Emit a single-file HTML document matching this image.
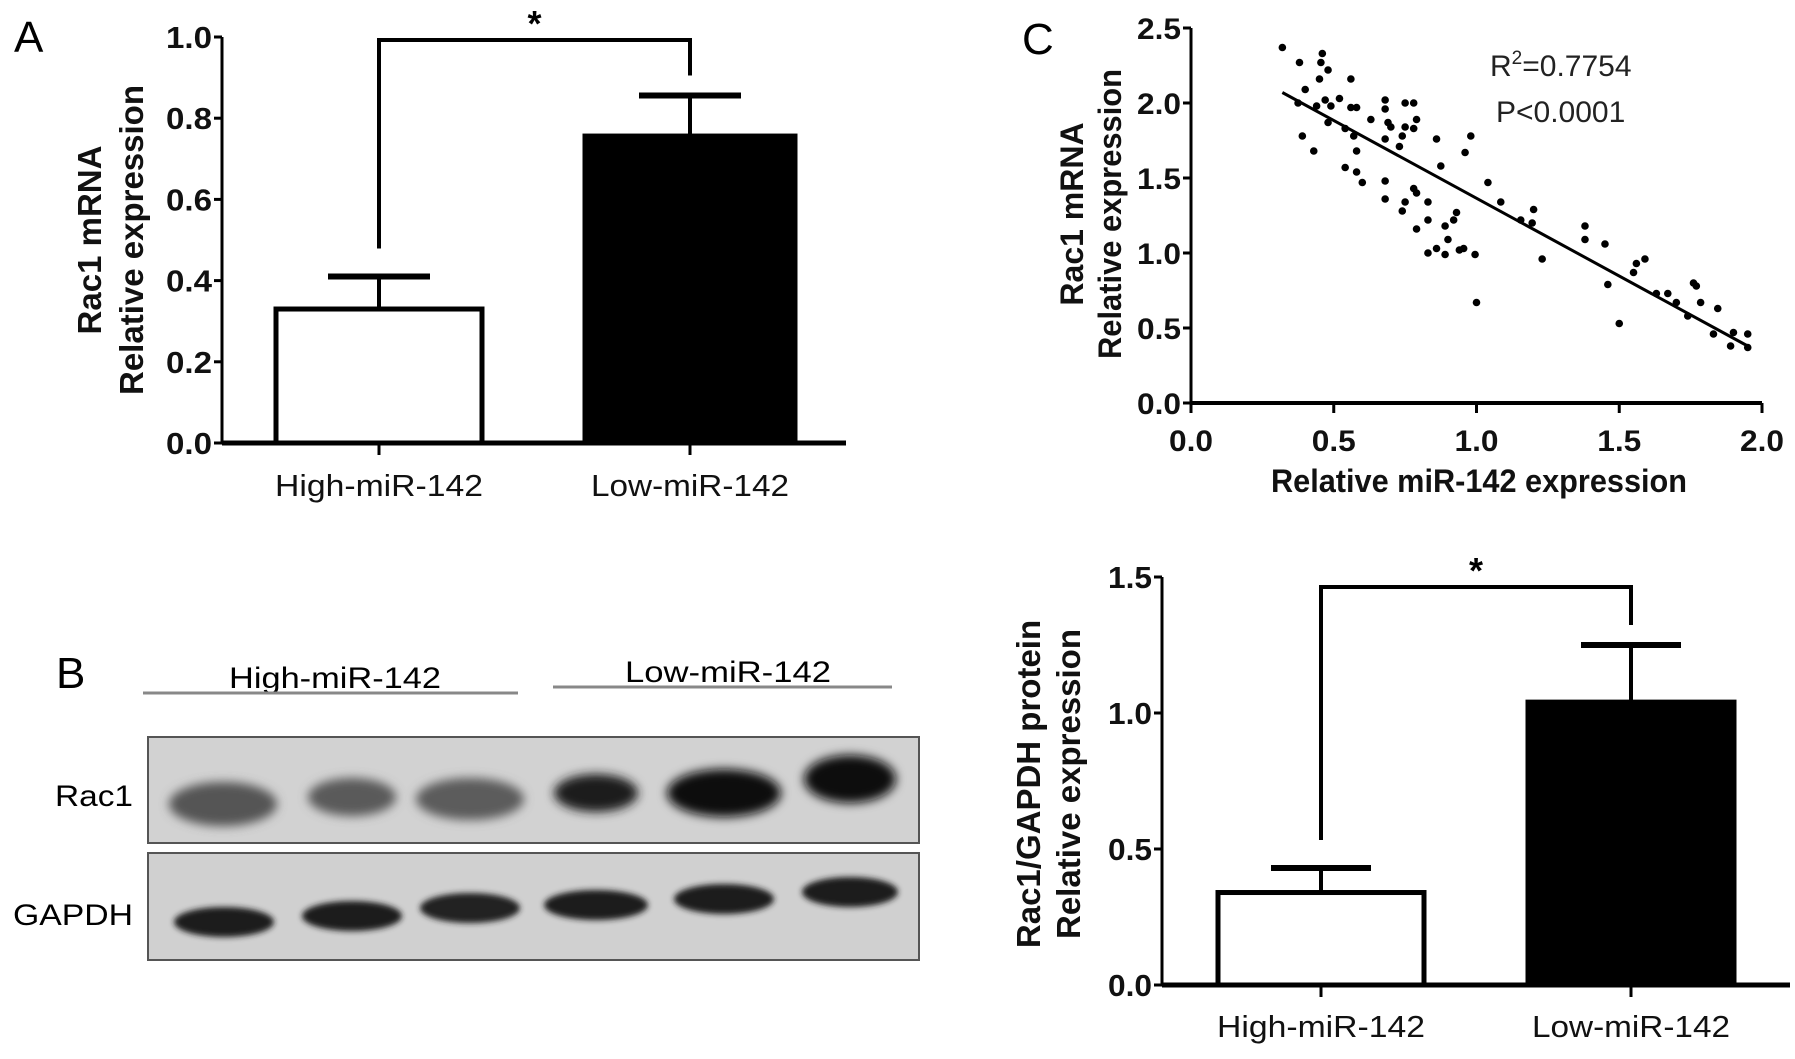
<!DOCTYPE html>
<html><head><meta charset="utf-8"><style>
html,body{margin:0;padding:0;background:#fff;}
svg{display:block;font-family:"Liberation Sans",Arial,sans-serif;}
</style></head><body>
<svg id="fig" width="1795" height="1059" viewBox="0 0 1795 1059" xmlns="http://www.w3.org/2000/svg">
<defs>
<filter id="blur4" x="-30%" y="-60%" width="160%" height="220%"><feGaussianBlur stdDeviation="5"/></filter>
<filter id="blur2" x="-30%" y="-60%" width="160%" height="220%"><feGaussianBlur stdDeviation="3"/></filter>
</defs>
<text x="14" y="52" font-size="44">A</text>
<text x="1022" y="54" font-size="44">C</text>
<text x="56" y="688" font-size="44">B</text>

<g id="panelA"></g>
<g id="panelC"></g>
<g id="panelD"></g>

<g>
<text x="335" y="688" font-size="30" text-anchor="middle" textLength="212" lengthAdjust="spacingAndGlyphs">High-miR-142</text>
<line x1="143" y1="693" x2="518" y2="693" stroke="#888" stroke-width="3"/>
<text x="728" y="682" font-size="30" text-anchor="middle" textLength="206" lengthAdjust="spacingAndGlyphs">Low-miR-142</text>
<line x1="553" y1="687" x2="892" y2="687" stroke="#888" stroke-width="3"/>
<text x="133" y="806" font-size="30" text-anchor="end" textLength="78" lengthAdjust="spacingAndGlyphs">Rac1</text>
<text x="133" y="925" font-size="30" text-anchor="end" textLength="120" lengthAdjust="spacingAndGlyphs">GAPDH</text>
<rect x="148" y="737" width="771" height="106" fill="#d2d2d2" stroke="#555" stroke-width="2"/>
<rect x="148" y="853" width="771" height="107" fill="#d0d0d0" stroke="#555" stroke-width="2"/>
<g filter="url(#blur4)">
<ellipse cx="223" cy="804" rx="54" ry="22" fill="#555"/>
<ellipse cx="352" cy="797" rx="44" ry="19" fill="#5a5a5a"/>
<ellipse cx="470" cy="799" rx="54" ry="21" fill="#5c5c5c"/>
<ellipse cx="596" cy="793" rx="42" ry="19" fill="#1e1e1e"/>
<ellipse cx="724" cy="793" rx="57" ry="24" fill="#0a0a0a"/>
<ellipse cx="850" cy="779" rx="46" ry="24" fill="#0a0a0a"/>
</g>
<g filter="url(#blur2)">
<ellipse cx="224" cy="922" rx="50" ry="15" fill="#1a1a1a"/>
<ellipse cx="352" cy="916" rx="50" ry="15" fill="#1c1c1c"/>
<ellipse cx="470" cy="908" rx="50" ry="15" fill="#202020"/>
<ellipse cx="596" cy="905" rx="52" ry="15" fill="#1c1c1c"/>
<ellipse cx="724" cy="899" rx="50" ry="15" fill="#1c1c1c"/>
<ellipse cx="850" cy="892" rx="48" ry="15" fill="#1c1c1c"/>
</g>
</g>
</svg>
<script>
// ---- Panel A data ----
const aCategories = ["High-miR-142", "Low-miR-142"];
const aMeans = [0.33, 0.756];
const aErrors = [0.08, 0.10];
const aTicks = ["0.0", "0.2", "0.4", "0.6", "0.8", "1.0"];
// ---- Panel C data ----
const cX = [0.32,0.38,0.455,0.46,0.48,0.45,0.56,0.40,0.375,0.44,0.47,0.49,0.52,0.56,0.58,0.48,0.54,0.39,0.43,0.57,0.58,0.54,0.58,0.60,0.63,0.68,0.68,0.69,0.70,0.68,0.73,0.74,0.75,0.75,0.78,0.79,0.78,0.86,0.875,0.96,0.98,0.68,0.68,0.75,0.74,0.78,0.79,0.83,0.83,0.79,0.89,0.90,0.92,0.93,0.83,0.86,0.89,0.94,0.955,0.995,1.0,1.04,1.085,1.155,1.195,1.20,1.23,1.38,1.38,1.45,1.46,1.50,1.55,1.56,1.59,1.63,1.67,1.70,1.74,1.76,1.77,1.785,1.845,1.83,1.89,1.90,1.95,1.95];
const cY = [2.37,2.27,2.27,2.33,2.22,2.16,2.16,2.09,2.0,1.98,2.02,1.98,2.03,1.97,1.97,1.87,1.83,1.78,1.68,1.78,1.68,1.57,1.54,1.47,1.89,2.02,1.96,1.87,1.84,1.76,1.71,1.78,1.84,2.0,2.0,1.89,1.83,1.76,1.58,1.67,1.78,1.48,1.36,1.34,1.28,1.43,1.40,1.34,1.22,1.16,1.18,1.09,1.22,1.27,1.0,1.03,0.99,1.02,1.03,0.99,0.67,1.47,1.34,1.22,1.20,1.29,0.96,1.18,1.09,1.06,0.79,0.53,0.87,0.93,0.96,0.73,0.73,0.67,0.58,0.80,0.78,0.67,0.63,0.46,0.38,0.47,0.46,0.37];
const cFitX = [0.32, 1.95];
const cFitY = [2.07, 0.38];
const cXTicks = ["0.0", "0.5", "1.0", "1.5", "2.0"];
const cYTicks = ["0.0", "0.5", "1.0", "1.5", "2.0", "2.5"];
// ---- Panel D data ----
const dCategories = ["High-miR-142", "Low-miR-142"];
const dMeans = [0.34, 1.04];
const dErrors = [0.09, 0.21];
const dTicks = ["0.0", "0.5", "1.0", "1.5"];

const NS = "http://www.w3.org/2000/svg";
function mk(parent, tag, attrs, text) {
  const e = document.createElementNS(NS, tag);
  for (const k in attrs) e.setAttribute(k, attrs[k]);
  if (text !== undefined) e.textContent = text;
  parent.appendChild(e);
  return e;
}

function barPanel(g, cfg, cats, means, errs, ticks) {
  const y = v => cfg.y0 - (v - cfg.vmin) / (cfg.vmax - cfg.vmin) * (cfg.y0 - cfg.y1);
  let e = mk(g, "line", {x1: cfg.ax, y1: y(cfg.vmax), x2: cfg.ax, y2: cfg.y0, stroke: "#000", "stroke-width": 3});
  
  
  e = mk(g, "line", {x1: cfg.ax, y1: cfg.y0, x2: cfg.axEnd, y2: cfg.y0, stroke: "#000", "stroke-width": 5});
  
  
  ticks.forEach((t) => {
    const v = parseFloat(t), yy = y(v);
    let l = mk(g, "line", {x1: cfg.ax - 8, y1: yy, x2: cfg.ax, y2: yy, stroke: "#000", "stroke-width": 3});
    
    
    let tx = mk(g, "text", {x: cfg.ax - 10, y: yy + 11, "font-size": 31, "font-weight": "bold", "text-anchor": "end", fill: "#111", textLength: cfg.tickW, lengthAdjust: "spacingAndGlyphs"}, t);
    
    
  });
  const centers = [];
  cats.forEach((c, i) => {
    const x0 = cfg.bars[i][0], x1 = cfg.bars[i][1], cx = (x0 + x1) / 2;
    centers.push(cx);
    const top = y(means[i]);
    let r = mk(g, "rect", {x: x0, y: top, width: x1 - x0, height: cfg.y0 - top, fill: i === 0 ? "#fff" : "#000", stroke: "#000", "stroke-width": 5});
    
    
    const et = y(means[i] + errs[i]);
    let el = mk(g, "line", {x1: cx, y1: top, x2: cx, y2: et, stroke: "#000", "stroke-width": 4});
    
    
    let ec = mk(g, "line", {x1: cx - cfg.cap, y1: et, x2: cx + cfg.cap, y2: et, stroke: "#000", "stroke-width": 6});
    
    
    let tk = mk(g, "line", {x1: cx, y1: cfg.y0, x2: cx, y2: cfg.y0 + 12, stroke: "#000", "stroke-width": 3});
    
    
    let lb = mk(g, "text", {x: cx, y: cfg.labelY, "font-size": 31, "text-anchor": "middle", textLength: cfg.labelW[i], lengthAdjust: "spacingAndGlyphs", fill: "#111"}, c);
    
    
  });
  const by = cfg.bracketY;
  const left = y(means[0] + errs[0]) - 28, right = y(means[1] + errs[1]) - 20;
  let br = mk(g, "path", {d: `M${centers[0]},${left} L${centers[0]},${by} L${centers[1]},${by} L${centers[1]},${right}`, fill: "none", stroke: "#000", "stroke-width": 4});
  
  
  let st = mk(g, "text", {x: (centers[0] + centers[1]) / 2, y: by - 4, "font-size": 36, "font-weight": "bold", "text-anchor": "middle"}, "*");
  
  
  const t = mk(g, "text", {transform: `translate(${cfg.titleX},${cfg.titleY}) rotate(-90)`, "font-size": 33, "font-weight": "bold", "text-anchor": "middle", fill: "#111"});
  
  
  mk(t, "tspan", {x: 0, y: 0}, cfg.title[0]);
  mk(t, "tspan", {x: 0, y: cfg.titleGap, textLength: cfg.title2W, lengthAdjust: "spacingAndGlyphs"}, cfg.title[1]);
}

barPanel(document.getElementById("panelA"), {
  ax: 222, axEnd: 846, y0: 443, y1: 37, vmin: 0, vmax: 1.0, tickW: 46,
  bars: [[276, 482], [585, 795]], cap: 51, labelY: 496, labelW: [208, 198],
  bracketY: 40, titleX: 101, titleY: 240, titleGap: 42, title: ["Rac1 mRNA", "Relative expression"], title2W: 310
}, aCategories, aMeans, aErrors, aTicks);

barPanel(document.getElementById("panelD"), {
  ax: 1162, axEnd: 1790, y0: 985, y1: 577, vmin: 0, vmax: 1.5, tickW: 44,
  bars: [[1218, 1424], [1528, 1734]], cap: 50, labelY: 1037, labelW: [208, 198],
  bracketY: 587, titleX: 1040, titleY: 784, titleGap: 40, title: ["Rac1/GAPDH protein", "Relative expression"], title2W: 310
}, dCategories, dMeans, dErrors, dTicks);

(function () {
  const g = document.getElementById("panelC");
  const ax = 1191, y0 = 403, xEnd = 1762, yTop = 28;
  const xs = v => ax + v / 2.0 * (xEnd - ax);
  const ys = v => y0 - v / 2.5 * (y0 - yTop);
  let e = mk(g, "line", {x1: ax, y1: yTop, x2: ax, y2: y0, stroke: "#000", "stroke-width": 3});
  
  
  e = mk(g, "line", {x1: ax, y1: y0, x2: xEnd, y2: y0, stroke: "#000", "stroke-width": 4});
  
  
  cYTicks.forEach(t => {
    const yy = ys(parseFloat(t));
    let l = mk(g, "line", {x1: ax - 8, y1: yy, x2: ax, y2: yy, stroke: "#000", "stroke-width": 3});
    
    
    let tx = mk(g, "text", {x: ax - 10, y: yy + 11, "font-size": 30, "font-weight": "bold", "text-anchor": "end", fill: "#111", textLength: 44, lengthAdjust: "spacingAndGlyphs"}, t);
    
    
  });
  cXTicks.forEach(t => {
    const xx = xs(parseFloat(t));
    let l = mk(g, "line", {x1: xx, y1: y0, x2: xx, y2: y0 + 10, stroke: "#000", "stroke-width": 3});
    
    
    let tx = mk(g, "text", {x: xx, y: y0 + 48, "font-size": 30, "font-weight": "bold", "text-anchor": "middle", fill: "#111", textLength: 44, lengthAdjust: "spacingAndGlyphs"}, t);
    
    
  });
  cX.forEach((v, i) => {
    let c = mk(g, "circle", {cx: xs(v), cy: ys(cY[i]), r: 3.8, fill: "#000"});
    
    
  });
  let fl = mk(g, "line", {x1: xs(cFitX[0]), y1: ys(cFitY[0]), x2: xs(cFitX[1]), y2: ys(cFitY[1]), stroke: "#000", "stroke-width": 3});
  
  
  let xt = mk(g, "text", {x: 1479, y: 492, "font-size": 32, "font-weight": "bold", "text-anchor": "middle", fill: "#111", textLength: 416, lengthAdjust: "spacingAndGlyphs"}, "Relative miR-142 expression");
  
  
  const t = mk(g, "text", {transform: "translate(1083,214) rotate(-90)", "font-size": 32, "font-weight": "bold", "text-anchor": "middle", fill: "#111"});
  
  
  mk(t, "tspan", {x: 0, y: 0}, "Rac1 mRNA");
  mk(t, "tspan", {x: 0, y: 38, textLength: 290, lengthAdjust: "spacingAndGlyphs"}, "Relative expression");
  const r2 = mk(g, "text", {x: 1490, y: 76, "font-size": 30, fill: "#222"});
  
  
  mk(r2, "tspan", {}, "R");
  mk(r2, "tspan", {dy: -12, "font-size": 19}, "2");
  mk(r2, "tspan", {dy: 12}, "=0.7754");
  const p = mk(g, "text", {x: 1496, y: 122, "font-size": 30, fill: "#222"}, "P<0.0001");
  
  
})();
</script>
</body></html>
